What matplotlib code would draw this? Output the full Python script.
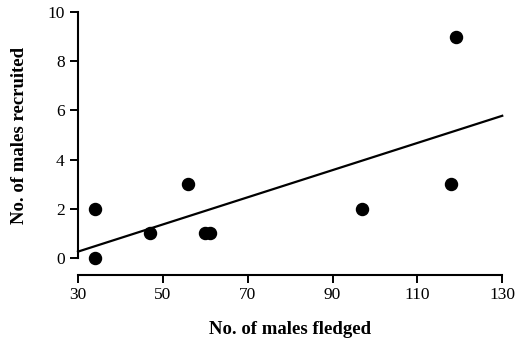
import numpy as np
import matplotlib
matplotlib.use('Agg')
import matplotlib.pyplot as plt

# data
males_fledged = [34, 34, 47, 56, 60, 61, 97, 118, 119]
males_recruited = [2, 0, 1, 3, 1, 1, 2, 3, 9]
x_ticks = [30, 50, 70, 90, 110, 130]
y_ticks = [0, 2, 4, 6, 8, 10]

plt.rcParams['font.family'] = ['Liberation Serif', 'DejaVu Serif']

fig = plt.figure(figsize=(5.27, 3.40), dpi=100)
ax = fig.add_axes([0.148, 0.241, 0.805, 0.724])

ax.scatter(males_fledged, males_recruited, s=75, color='black', zorder=3, clip_on=False)

# least squares line
slope, intercept = np.polyfit(males_fledged, males_recruited, 1)
xs = np.array([x_ticks[0], x_ticks[-1]])
ax.plot(xs, slope * xs + intercept, color='black', lw=1.6, clip_on=False)

ax.set_xlim(30, 130)
ax.set_ylim(0, 10)
ax.set_xticks(x_ticks)
ax.set_yticks(y_ticks)
ax.tick_params(labelsize=12.5, width=1.4, length=6, direction='out', colors='black')
ax.tick_params(axis='x', pad=3)

for side in ['top', 'right']:
    ax.spines[side].set_visible(False)
ax.spines['left'].set_linewidth(1.5)
ax.spines['bottom'].set_linewidth(1.5)
ax.spines['bottom'].set_position(('outward', 12))

ax.set_xlabel('No. of males fledged', fontsize=13.5, fontweight='bold', labelpad=13)
ax.set_ylabel('No. of males recruited', fontsize=13.5, fontweight='bold', labelpad=14)

fig.savefig('out.png', dpi=100)
